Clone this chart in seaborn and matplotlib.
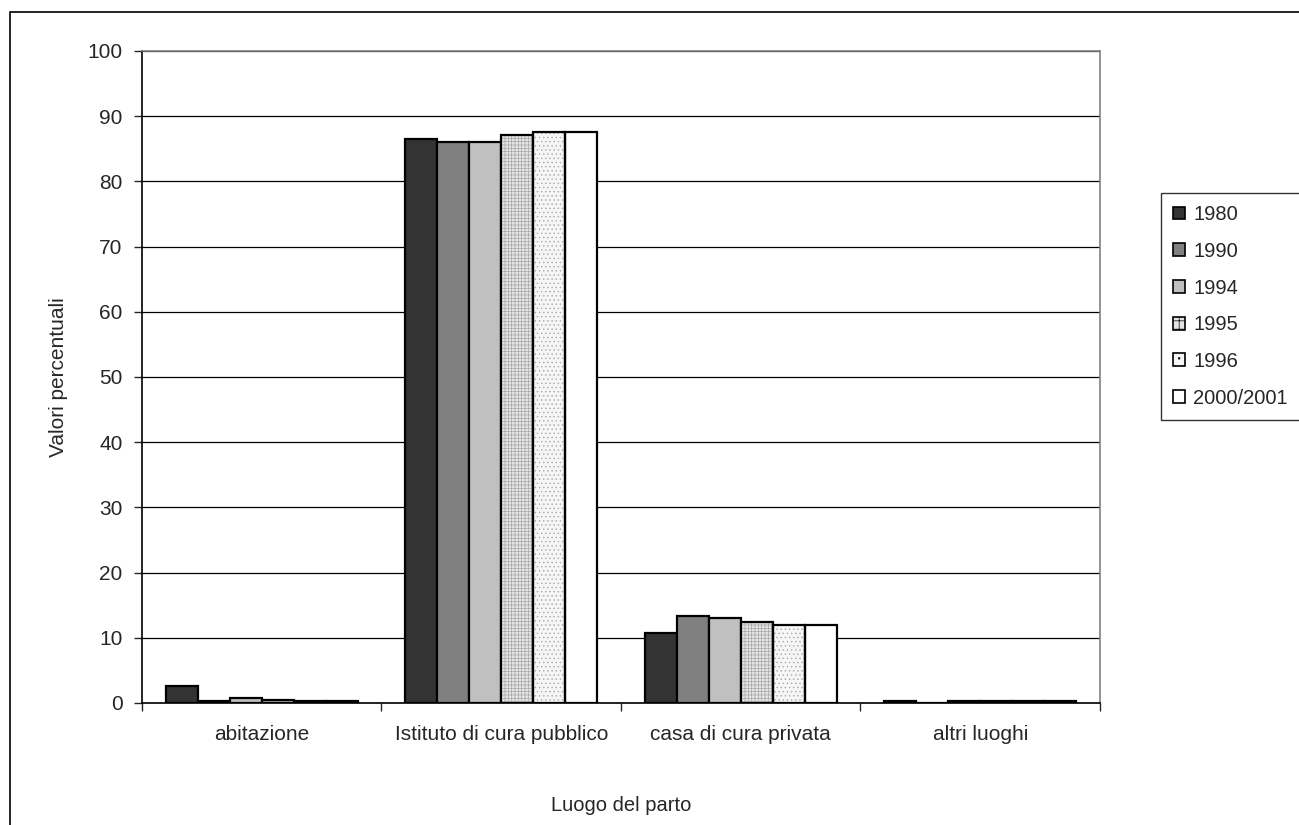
import numpy as np
import pandas as pd
import matplotlib
matplotlib.use("Agg")
import matplotlib.pyplot as plt
import seaborn as sns

# --- DATA ---
CATEGORIES = ["abitazione", "Istituto di cura pubblico", "casa di cura privata", "altri luoghi"]
YEARS = ["1980", "1990", "1994", "1995", "1996", "2000/2001"]
V_1980 = [2.6, 86.5, 10.8, 0.3]
V_1990 = [0.3, 86.1, 13.3, 0.0]
V_1994 = [0.7, 86.1, 13.0, 0.3]
V_1995 = [0.4, 87.1, 12.4, 0.3]
V_1996 = [0.3, 87.6, 11.9, 0.3]
V_2000 = [0.3, 87.6, 11.9, 0.3]

COLORS = ["#333333", "#808080", "#c0c0c0", "#e4e4e4", "#f6f6f6", "#ffffff"]
HATCHES = [None, None, None, "+++++", "....", None]


def add_texture(bar, hatch, ax):
    # grey hatch inside the bar, black outline drawn on top of it
    bar.set_hatch(hatch)
    bar.set_edgecolor("#a8a8a8")
    bar.set_linewidth(0)
    outline = plt.Rectangle((bar.get_x(), bar.get_y()), bar.get_width(), bar.get_height(),
                            fill=False, edgecolor="black", linewidth=1.6,
                            zorder=bar.get_zorder() + 0.1)
    ax.add_patch(outline)


def main():
    rows = []
    for year, vals in zip(YEARS, [V_1980, V_1990, V_1994, V_1995, V_1996, V_2000]):
        for cat, v in zip(CATEGORIES, vals):
            rows.append({"luogo": cat, "anno": year, "valore": v})
    df = pd.DataFrame(rows)

    sns.set_style("white")
    plt.rcParams["font.family"] = ["Liberation Sans", "DejaVu Sans"]
    plt.rcParams["hatch.linewidth"] = 0.5

    fig = plt.figure(figsize=(12.99, 8.25), dpi=100)
    ax = fig.add_axes([0.1093, 0.1479, 0.7375, 0.7903])

    sns.barplot(data=df, x="luogo", y="valore", hue="anno", order=CATEGORIES,
                hue_order=YEARS, palette=COLORS, width=0.8, gap=0,
                edgecolor="black", linewidth=1.6, ax=ax, legend=True)

    for cont, h in zip(ax.containers, HATCHES):
        if h:
            for bar in cont:
                if bar.get_height() > 0:
                    add_texture(bar, h, ax)

    ax.set_ylim(0, 100)
    ax.set_xlim(-0.5, 3.5)
    ax.set_yticks(np.arange(0, 101, 10))
    ax.yaxis.grid(True, color="black", linewidth=0.9)
    ax.set_axisbelow(True)

    ax.set_xticks([-0.5, 0.5, 1.5, 2.5, 3.5], minor=True)
    ax.tick_params(axis="x", which="major", length=0, labelsize=15, pad=16)
    ax.tick_params(axis="x", which="minor", length=6, width=1, direction="out", bottom=True)
    ax.tick_params(axis="y", length=6, width=1, direction="out", left=True, labelsize=15, pad=8)

    for side in ["left", "bottom"]:
        ax.spines[side].set_color("black")
        ax.spines[side].set_linewidth(1.2)
    for side in ["top", "right"]:
        ax.spines[side].set_color("#808080")
        ax.spines[side].set_linewidth(1.2)

    ax.set_xlabel("Luogo del parto", fontsize=14.5, labelpad=37)
    ax.set_ylabel("Valori percentuali", fontsize=15, labelpad=14)

    leg = ax.legend(loc="upper left", bbox_to_anchor=(1161 / 1299, 1 - 193 / 825),
                    bbox_transform=fig.transFigure, frameon=True,
                    fontsize=14.5, handlelength=0.6, handleheight=0.6,
                    handletextpad=0.4, labelspacing=0.88, borderpad=0.6,
                    borderaxespad=0, fancybox=False, edgecolor="black")
    leg.get_frame().set_linewidth(1.0)
    for handle, h in zip(leg.legend_handles, HATCHES):
        handle.set_edgecolor("black")
        handle.set_linewidth(1.2)
        if h:
            handle.set_hatch("++" if h.startswith("+") else "..")

    # outer chart border (only left/top edges fall inside the image)
    fig.patches.append(plt.Rectangle((10 / 1299, -0.1), 1.5, 1.1 - 12 / 825,
                                     transform=fig.transFigure, fill=False,
                                     edgecolor="black", linewidth=1.2))

    fig.savefig("out.png", dpi=100)


if __name__ == "__main__":
    main()
